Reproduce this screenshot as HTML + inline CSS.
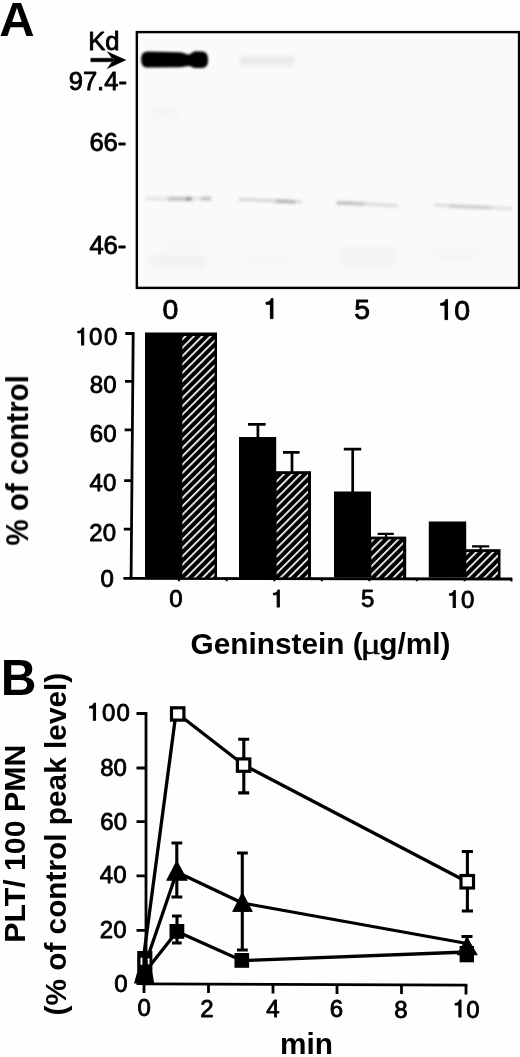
<!DOCTYPE html>
<html><head><meta charset="utf-8">
<style>
html,body{margin:0;padding:0;background:#fefefd;}
svg{display:block;font-family:"Liberation Sans",sans-serif;}
.t{font-size:25.6px;fill:#000;stroke:#000;stroke-width:0.85px;stroke-linejoin:round;}
.c{font-size:24px;fill:#000;stroke:#000;stroke-width:0.85px;stroke-linejoin:round;}
.l{font-size:28.4px;fill:#000;stroke:#000;stroke-width:0.85px;stroke-linejoin:round;}
.b{font-weight:bold;fill:#000;}
</style></head><body>
<svg width="520" height="1057" viewBox="0 0 520 1057">
<defs>
<pattern id="h1" width="5.9" height="5.9" patternUnits="userSpaceOnUse" patternTransform="translate(0 3.2) rotate(-45)">
<rect width="5.9" height="5.9" fill="#000"/><rect y="0" width="5.9" height="1.7" fill="#fff"/>
</pattern>
<pattern id="h2" width="5.9" height="5.9" patternUnits="userSpaceOnUse" patternTransform="translate(0 5.9) rotate(-45)">
<rect width="5.9" height="5.9" fill="#000"/><rect y="0" width="5.9" height="1.7" fill="#fff"/>
</pattern>
<pattern id="h3" width="5.9" height="5.9" patternUnits="userSpaceOnUse" patternTransform="translate(0 2) rotate(-45)">
<rect width="5.9" height="5.9" fill="#000"/><rect y="0" width="5.9" height="1.7" fill="#fff"/>
</pattern>
<pattern id="h4" width="5.9" height="5.9" patternUnits="userSpaceOnUse" patternTransform="translate(0 1) rotate(-45)">
<rect width="5.9" height="5.9" fill="#000"/><rect y="0" width="5.9" height="1.7" fill="#fff"/>
</pattern>
<filter id="bl" x="-20%" y="-50%" width="140%" height="200%"><feGaussianBlur stdDeviation="1.15"/></filter>
<filter id="bl4" x="-20%" y="-100%" width="140%" height="300%"><feGaussianBlur stdDeviation="2.6"/></filter>
<filter id="bl2" x="-20%" y="-300%" width="140%" height="700%"><feGaussianBlur stdDeviation="1.5"/></filter>
<filter id="bl3" x="-20%" y="-100%" width="140%" height="300%"><feGaussianBlur stdDeviation="4"/></filter>
<filter id="s" x="-5%" y="-5%" width="110%" height="110%"><feGaussianBlur stdDeviation="0.4"/></filter>
<path id="one" d="M257 0 H347 V-709 H289 C272 -632 215 -578 102 -568 V-506 H257Z" fill="#000" stroke="#000" stroke-linejoin="round"/>
</defs>
<rect width="520" height="1057" fill="#fefefd"/>

<!-- ===== Panel A blot ===== -->
<g id="blot">
<rect x="136.85" y="32.1" width="382.3" height="255.8" fill="#fdfdfd"/>
<rect x="139.3" y="34.8" width="377.5" height="251.5" fill="#f9faf9"/>
<!-- main band -->
<g filter="url(#bl)">
<path d="M141.2 59.5 C141.2 53.6 143.5 51.5 148 51.4 L180 52.2 C184 52.4 186 54.4 188.5 54.4 C191 54.4 192.5 51.6 196 51.3 L202 51.4 C206.8 51.8 208.1 55 208.1 59.6 C208.1 64.8 206.8 67.7 202 68 L196 68 C192.5 67.9 191 66 188.5 66 C186 66 184 67.2 180 67.3 L148 67.6 C143.5 67.6 141.2 65.4 141.2 59.5Z" fill="#000"/>
</g>
<rect x="240" y="56" width="54" height="9.5" fill="#e8e9e8" filter="url(#bl4)"/>
<!-- lower bands -->
<g filter="url(#bl2)">
<rect x="146" y="197.2" width="66" height="3.2" fill="#e2e3e2"/>
<rect x="168" y="197" width="24" height="3.6" fill="#bcbcbc"/>
<rect x="186" y="196.8" width="6" height="4.2" fill="#9c9c9c"/>
<rect x="201" y="196.8" width="10" height="3.6" fill="#bebebe"/>
<path d="M239 197.8 L276 199.2 L302 200.6 L302 203.4 L276 202.4 L239 201Z" fill="#d6d6d6"/>
<path d="M276 199.4 L295 200.2 L295 203.4 L276 202.8Z" fill="#aeaeae"/>
<path d="M336 201 L365 202.2 L398 204.4 L398 207.4 L365 205.4 L336 204.4Z" fill="#d8d8d8"/>
<path d="M337 201.2 L364 202.3 L364 205.4 L337 204.4Z" fill="#bcbcbc"/>
<path d="M434 203.6 L480 205.6 L512 207.2 L512 210 L480 208.6 L434 206.8Z" fill="#dcdcdc"/>
<path d="M449 204.4 L490 206.2 L490 209.2 L449 207.6Z" fill="#c6c6c6"/>
</g>
<g filter="url(#bl3)">
<rect x="150" y="256" width="56" height="11" fill="#eff0ef"/>
<rect x="165" y="243" width="36" height="6" fill="#f3f4f3"/>
<rect x="340" y="248" width="58" height="20" fill="#f3f4f3"/>
<rect x="432" y="251" width="48" height="8" fill="#f3f4f3"/>
<rect x="242" y="258" width="52" height="8" fill="#f4f5f4"/>
<rect x="150" y="108" width="30" height="10" fill="#f3f4f3"/>
</g>
<rect x="136.85" y="32.1" width="382.2" height="255.8" fill="none" stroke="#000" stroke-width="2.4"/>
</g>

<g filter="url(#s)">
<text class="b" x="-0.8" y="36.2" font-size="49">A</text>
<text class="t" x="88.2" y="49.5">Kd</text>
<text class="t" x="127" y="89.7" text-anchor="end">97.4-</text>
<text class="t" x="126.4" y="150.6" text-anchor="end">66-</text>
<text class="t" x="126.4" y="253.6" text-anchor="end">46-</text>
<path d="M90.8 58.2 H113.5 V61.8 H90.8Z M125.8 60 L107.3 51.8 L113.5 60 L107.3 68.6Z" fill="#000" stroke="#000" stroke-width="0.5" stroke-linejoin="round"/>
<g class="l" text-anchor="middle">
<text x="170.3" y="319.4">0</text>
<use href="#one" transform="translate(263.10 318.60) scale(0.02840)" stroke-width="35.2"/>
<text x="362.2" y="319.4">5</text>
<use href="#one" transform="translate(437.70 319.60) scale(0.02840)" stroke-width="35.2"/>
<text x="454.2" y="319.8" text-anchor="start">0</text>
</g>
</g>

<!-- ===== Panel A bar chart ===== -->
<g id="bars" filter="url(#s)">
<g stroke="#000" stroke-width="2.8" fill="none">
<path d="M125.3 333.5 H133.2 L131.1 578.3 M125 381.4 H132.8 M124.6 429.8 H132.4 M124.2 480.6 H132 M123.8 529.2 H131.6 M123.4 578.3 L512 579"/>
</g>
<g stroke="#000" stroke-width="2" fill="none">
<path d="M179 578 v3.3 M226.7 578 v3.3 M274.4 578 v3.3 M321.8 578 v3.3 M369.4 578 v3.3 M416.8 578 v3.3 M464.6 578 v3.3 M511.5 578 v3.6"/>
</g>
<!-- bars -->
<rect x="145" y="332.5" width="37" height="245" fill="#000"/>
<rect x="182" y="332.5" width="35" height="245" fill="#000"/>
<rect x="182.3" y="336" width="32.2" height="241.5" fill="url(#h1)"/>

<rect x="239" y="437" width="37.2" height="141" fill="#000"/>
<rect x="276" y="471.2" width="35" height="107" fill="#000"/>
<rect x="276.6" y="474" width="31.4" height="103.4" fill="url(#h2)"/>

<rect x="334" y="491.5" width="37" height="86" fill="#000"/>
<rect x="371" y="536.6" width="35.2" height="41.4" fill="#000"/>
<rect x="371.3" y="539.3" width="31.8" height="38.2" fill="url(#h3)"/>

<rect x="428.8" y="521.5" width="37.4" height="56" fill="#000"/>
<rect x="466" y="549.2" width="34.5" height="29" fill="#000"/>
<rect x="466.3" y="552" width="31.7" height="25.6" fill="url(#h4)"/>
<!-- error bars -->
<g stroke="#000" stroke-width="2.7" fill="none">
<path d="M257.9 438 V424.3 M248 424.3 H265.6"/>
<path d="M292 472 V452.4 M283 452.4 H299.6"/>
<path d="M352.7 492 V449.2 M343.8 449.2 H361.2"/>
<path d="M386 538 V533.8 M377.7 533.8 H393.8" stroke-width="2.2"/>
<path d="M480.6 550 V546.3 M472 546.3 H489.2" stroke-width="2.2"/>
</g>
<g class="c" text-anchor="end">
<use href="#one" transform="translate(75.40 345.00) scale(0.02400)" stroke-width="41.7"/>
<text x="89 104" y="345.2" text-anchor="start">00</text>
<text x="116.5" y="393.2">80</text>
<text x="116.5" y="442">60</text>
<text x="116.3" y="491.3">40</text>
<text x="116" y="540.6">20</text>
<text x="113.8" y="586.8">0</text>
</g>
<g class="c" text-anchor="middle">
<text x="176" y="607">0</text>
<use href="#one" transform="translate(271.00 607.00) scale(0.02400)" stroke-width="41.7"/>
<text x="367.7" y="607">5</text>
<use href="#one" transform="translate(447.00 607.50) scale(0.02400)" stroke-width="41.7"/>
<text x="461" y="607.8" text-anchor="start">0</text>
</g>
<text class="b" font-size="29.5" transform="translate(28.2 545.6) rotate(-90) scale(1,1.04)">% of control</text>
<text class="b" font-size="29.8" x="190.6" y="653.7">Geninstein (</text>
<text font-family="Liberation Serif" font-size="30" transform="translate(360.6 653.7) scale(1.27 1)" fill="#000" stroke="#000" stroke-width="0.4">μ</text>
<text class="b" font-size="29.8" x="379.2" y="653.7">g/ml)</text>
</g>

<!-- ===== Panel B ===== -->
<g id="pb" filter="url(#s)">
<text class="b" x="0.8" y="695.2" font-size="49.5">B</text>
<g stroke="#000" stroke-width="2.8" fill="none">
<path d="M136.5 713.5 H146 V984 M136.5 768 H146 M136.5 821.7 H146 M136.5 875.8 H146 M136.5 930.3 H146 M136.5 983.6 H146"/>
<path d="M144.6 983.8 L467.4 985.2"/>
<path d="M144 984 V993 M208.5 984 V993 M273 984.5 V993.5 M337 984.8 V994 M401.5 985 V994 M466 985 V994.5" stroke-width="2.8"/>
</g>
<g class="c" text-anchor="end">
<use href="#one" transform="translate(87.20 720.20) scale(0.02400)" stroke-width="41.7"/>
<text x="102 116.5" y="720.6" text-anchor="start">00</text>
<text x="126.9" y="775.7">80</text>
<text x="127" y="829.5">60</text>
<text x="126.5" y="883.2">40</text>
<text x="126.5" y="937.7">20</text>
<text x="127.5" y="991.5">0</text>
</g>
<g class="c" text-anchor="middle">
<text x="144.3" y="1016.3">0</text>
<text x="207" y="1016.5">2</text>
<text x="273" y="1017">4</text>
<text x="336.5" y="1017">6</text>
<text x="401" y="1017.5">8</text>
<use href="#one" transform="translate(452.70 1017.10) scale(0.02400)" stroke-width="41.7"/>
<text x="466.3" y="1017.5" text-anchor="start">0</text>
</g>
<text class="b" font-size="29.8" x="280" y="1053.6">min</text>
<text class="b" font-size="30.3" transform="translate(24.5 942.8) rotate(-90)">PLT/ 100 PMN</text>
<text class="b" font-size="29.8" transform="translate(66.2 1015.5) rotate(-90)">(% of control peak level)</text>

<!-- lines -->
<g stroke="#000" stroke-width="3.3" fill="none" stroke-linejoin="round">
<path d="M143.2 960 L175.9 713.8 M177.7 713.8 L243.8 765 L467.4 882"/>
<path d="M144 968 L176.8 872 L242.3 903 L467 943.5"/>
<path d="M145 972 L177 931.4 L241.7 960.6 L467 952"/>
</g>
<!-- error bars -->
<g stroke="#000" stroke-width="3.1" fill="none">
<path d="M243.8 739.2 V792.9 M238.2 739.2 H249.2 M238.2 792.9 H249.2"/>
<path d="M467.4 851.5 V911 M461.8 851.5 H473 M461.8 911 H473"/>
<path d="M176.8 843 V897 M171.5 843 H182.3 M171.5 897 H182.3"/>
<path d="M242.3 853 V950 M237 853 H247.8 M237 950 H247.8"/>
<path d="M177 916 V943 M172 916 H181.7 M172 943 H181.7"/>
<path d="M467 936.5 V950 M461.5 936.5 H472.5"/>
</g>
<!-- markers -->
<g stroke="#000" stroke-width="3.2" fill="#fefefd">
<rect x="171.5" y="707.8" width="12.4" height="12.3"/>
<rect x="237.4" y="758.9" width="12.4" height="12.4"/>
<rect x="461" y="875.5" width="12.5" height="12.5"/>
</g>
<g fill="#000">
<path d="M176.8 861 L187.3 880.3 H166.7Z" stroke="#000" stroke-width="0.9"/>
<path d="M242.3 892.6 L252.3 911.5 H232.7Z" stroke="#000" stroke-width="0.9"/>
<path d="M467 937.5 L477.2 954.8 H457.3Z" stroke="#000" stroke-width="1" stroke-linejoin="round"/>
<rect x="169.5" y="924" width="14.8" height="14.8"/>
<rect x="234.5" y="953" width="14.6" height="14.8"/>
<rect x="459.6" y="946" width="14.4" height="16.3"/>
<path d="M137.2 951 H152.4 V972 L154.2 983.5 H134 L137.2 972Z"/>
<rect x="140.5" y="957.5" width="1.9" height="7.5" rx="0.9" fill="#fdfdfd"/>
<rect x="147.7" y="958.3" width="1.8" height="6.2" rx="0.9" fill="#fdfdfd"/>
</g>
</g>
</svg>
</body></html>
